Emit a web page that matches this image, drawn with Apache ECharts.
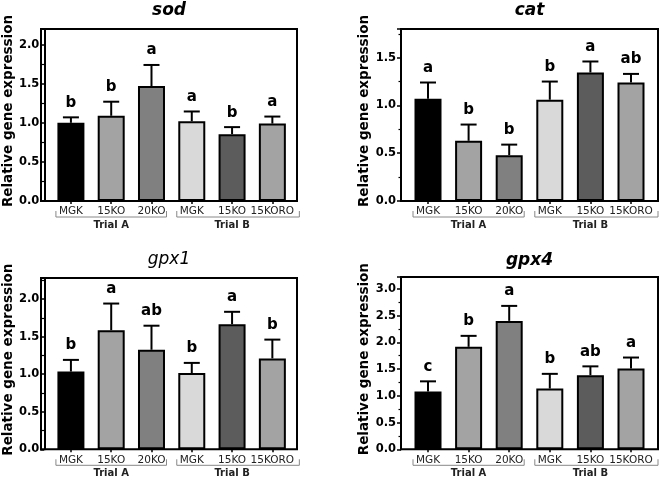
<!DOCTYPE html>
<html>
<head>
<meta charset="utf-8">
<script src="https://cdn.jsdelivr.net/npm/echarts@6/dist/echarts.min.js"></script>
<style>
  html, body { margin: 0; padding: 0; background: #fff; }
  #chart { width: 661px; height: 480px; }
</style>
</head>
<body>
<div id="chart"></div>
<script>
// groups on the x axis
var categories = ['MGK', '15KO', '20KO', 'MGK', '15KO', '15KORO'];
var trials = ['Trial A', 'Trial B'];
var trialFirst = [0, 3];
var trialLast = [2, 5];

// mean and upper error (SD)
var sodMean = [1.00, 1.09, 1.47, 1.02, 0.855, 0.99];
var sodErr = [0.07, 0.18, 0.27, 0.125, 0.09, 0.09];
var sodLetters = ['b', 'b', 'a', 'a', 'b', 'a'];

var catMean = [1.07, 0.63, 0.48, 1.06, 1.345, 1.24];
var catErr = [0.17, 0.17, 0.11, 0.19, 0.115, 0.09];
var catLetters = ['a', 'b', 'b', 'b', 'a', 'ab'];

var gpx1Mean = [1.035, 1.585, 1.325, 1.015, 1.665, 1.21];
var gpx1Err = [0.155, 0.355, 0.32, 0.135, 0.165, 0.25];
var gpx1Letters = ['b', 'a', 'ab', 'b', 'a', 'b'];

var gpx4Mean = [1.08, 1.915, 2.40, 1.135, 1.385, 1.51];
var gpx4Err = [0.19, 0.205, 0.28, 0.275, 0.165, 0.205];
var gpx4Letters = ['c', 'b', 'a', 'b', 'ab', 'a'];

var yMax = [2.2, 1.8, 2.28, 3.22];
var yInterval = 0.5;

var barColors = ['#000000', '#a3a3a3', '#808080', '#d9d9d9', '#5c5c5c', '#a3a3a3'];
var font = 'DejaVu Sans';

var panels = [
  { gene: 'sod', mean: sodMean, err: sodErr, letters: sodLetters, bold: true,
    left: 41, top: 29, w: 256, h: 172, padL: 6.5, padR: 4.5, titleY: 2 },
  { gene: 'cat', mean: catMean, err: catErr, letters: catLetters, bold: true,
    left: 401, top: 29, w: 257, h: 172, padL: 6.7, padR: 6.7, titleY: 2 },
  { gene: 'gpx1', mean: gpx1Mean, err: gpx1Err, letters: gpx1Letters, bold: false,
    left: 41, top: 278, w: 256, h: 171.3, padL: 6.5, padR: 4.5, titleY: 251 },
  { gene: 'gpx4', mean: gpx4Mean, err: gpx4Err, letters: gpx4Letters, bold: true,
    left: 401, top: 277, w: 257, h: 172.3, padL: 6.7, padR: 6.7, titleY: 252 }
];

var chartDom = document.getElementById('chart');
var myChart = echarts.init(chartDom);

var grid = [], xAxis = [], yAxis = [], series = [], title = [];

panels.forEach(function (p, k) {
  var fi = 2 * k, di = 2 * k + 1;

  // outer frame
  grid.push({ left: p.left, top: p.top, width: p.w, height: p.h, show: true,
    borderColor: '#000', borderWidth: 2, backgroundColor: 'transparent' });
  xAxis.push({ gridIndex: fi, type: 'value', show: false });
  yAxis.push({ gridIndex: fi, type: 'value', show: false });

  // data area
  grid.push({ left: p.left + p.padL, top: p.top, width: p.w - p.padL - p.padR, height: p.h });
  xAxis.push({
    gridIndex: di, type: 'category', data: categories,
    axisLine: { show: false },
    axisTick: { show: true, alignWithLabel: true, length: 3, lineStyle: { color: '#000', width: 1.5 } },
    axisLabel: { interval: 0, margin: 5, fontSize: 10.5, fontFamily: font, color: '#222' }
  });
  yAxis.push({
    gridIndex: di, type: 'value', min: 0, max: yMax[k], interval: yInterval,
    offset: p.padL,
    axisLine: { show: true, lineStyle: { color: '#000', width: 2 } },
    axisTick: { show: true, length: 4, lineStyle: { color: '#000', width: 1.5 } },
    minorTick: { show: true, splitNumber: 2, length: 2.5, lineStyle: { color: '#000', width: 1.2 } },
    splitLine: { show: false },
    axisLabel: {
      showMaxLabel: false, margin: 5, fontSize: 11.5, fontWeight: 'bold', fontFamily: font, color: '#000',
      formatter: function (v) { return v.toFixed(1); }
    },
    name: 'Relative gene expression', nameLocation: 'middle', nameGap: 26,
    nameTextStyle: { fontSize: 13.5, fontWeight: 'bold', fontFamily: font, color: '#000',
      padding: [0, 0, 0, 8] }
  });

  series.push({
    type: 'bar', xAxisIndex: di, yAxisIndex: di, barWidth: 27,
    animation: false,
    itemStyle: { borderColor: '#000', borderWidth: 2 },
    data: p.mean.map(function (v, i) {
      return { value: v, itemStyle: { color: barColors[i] } };
    })
  });

  // error bars + significance letters
  series.push({
    type: 'custom', xAxisIndex: di, yAxisIndex: di, z: 3, animation: false,
    data: p.mean.map(function (v, i) { return [i, v, v + p.err[i]]; }),
    renderItem: function (params, api) {
      var i = api.value(0);
      var base = api.coord([i, api.value(1)]);
      var top = api.coord([i, api.value(2)]);
      var cap = 8;
      return {
        type: 'group',
        children: [
          { type: 'line', shape: { x1: base[0], y1: base[1], x2: top[0], y2: top[1] },
            style: { stroke: '#000', lineWidth: 2 } },
          { type: 'line', shape: { x1: top[0] - cap, y1: top[1], x2: top[0] + cap, y2: top[1] },
            style: { stroke: '#000', lineWidth: 2 } },
          { type: 'text', x: top[0], y: top[1] - 7,
            style: { text: p.letters[params.dataIndex], align: 'center', verticalAlign: 'bottom',
              fontSize: 15, fontWeight: 'bold', fontFamily: font, fill: '#000' } }
        ]
      };
    }
  });

  // trial brackets under the labels
  series.push({
    type: 'custom', xAxisIndex: di, yAxisIndex: di, animation: false, silent: true,
    data: trialFirst.map(function (s, j) { return [s, trialLast[j]]; }),
    renderItem: function (params, api) {
      var j = params.dataIndex;
      var a = api.coord([api.value(0), 0]);
      var b = api.coord([api.value(1), 0]);
      var y0 = a[1] + 10, y1 = a[1] + 16;
      var xl = a[0] - 15;
      var xr = b[0] + (j === trials.length - 1 ? 27 : 15);
      return {
        type: 'group',
        children: [
          { type: 'polyline', shape: { points: [[xl, y0], [xl, y1], [xr, y1], [xr, y0]] },
            style: { stroke: '#888', lineWidth: 1, fill: null } },
          { type: 'text', x: (a[0] + b[0]) / 2, y: a[1] + 24,
            style: { text: trials[j], align: 'center', verticalAlign: 'middle',
              fontSize: 10, fontWeight: 'bold', fontFamily: font, fill: '#222' } }
        ]
      };
    }
  });

  title.push({
    text: p.gene, left: p.left + p.w / 2, top: p.titleY, textAlign: 'center', padding: 0,
    textStyle: { fontSize: 17, fontStyle: 'italic', fontWeight: p.bold ? 'bold' : 'normal',
      fontFamily: font, color: '#000' }
  });
});

var option = {
  backgroundColor: '#fff',
  animation: false,
  title: title,
  grid: grid,
  xAxis: xAxis,
  yAxis: yAxis,
  series: series
};

option && myChart.setOption(option);
</script>
</body>
</html>
